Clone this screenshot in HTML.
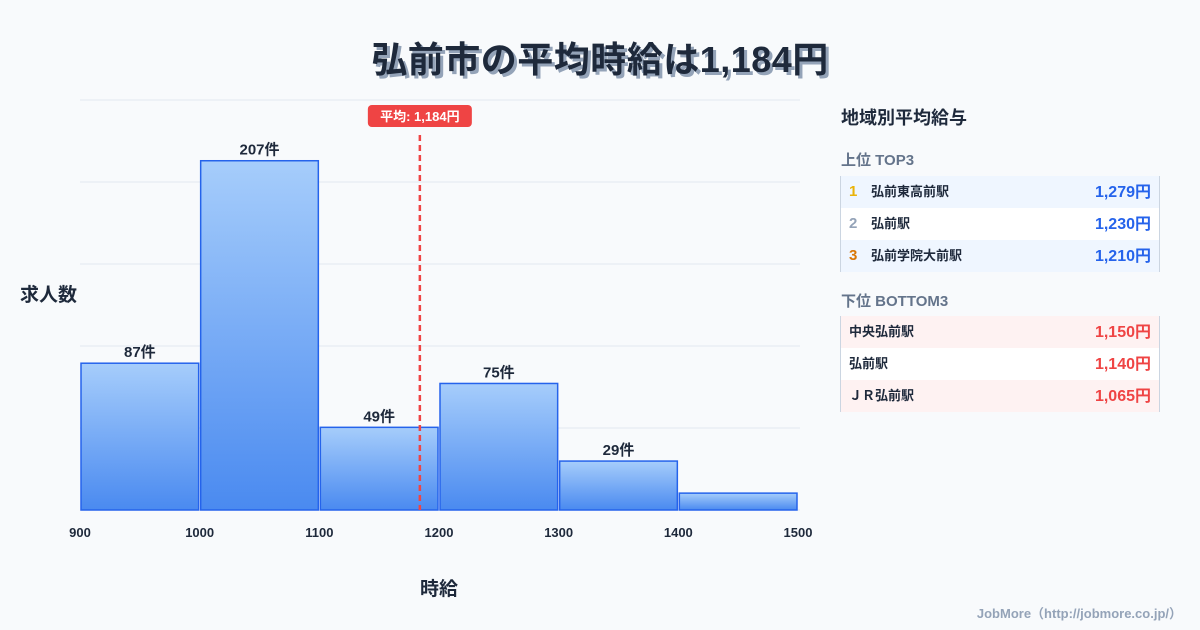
<!DOCTYPE html>
<html><head><meta charset="utf-8"><style>
body{margin:0;width:1200px;height:630px;background:#f8fafc;font-family:"Liberation Sans","Noto Sans CJK JP",sans-serif;position:relative;overflow:hidden;color:#1e293b}
.t{position:absolute;white-space:nowrap}
.row{position:absolute;left:840px;width:320px;height:32px;line-height:32px;border-left:1px solid #cbd5e1;border-right:1px solid #cbd5e1;box-sizing:border-box;font-size:13px;font-weight:bold}
.row span{position:absolute;top:0}
.row .n{font-size:15px}
.row .v{right:8px;font-size:16px;top:1px}
</style></head><body>
<div class="t" style="left:0;width:1200px;text-align:center;top:31px;font-size:36px;font-weight:bold;letter-spacing:0.5px;text-shadow:3px 3px 0 #94a3b8">弘前市の平均時給は1,184円</div>
<svg id="c" width="1200" height="630" style="position:absolute;left:0;top:0"></svg>
<div class="t" style="left:20px;top:280px;font-size:19px;font-weight:bold">求人数</div>
<div class="t" style="left:420px;top:574px;font-size:19px;font-weight:bold">時給</div>
<div class="t" style="left:841px;top:104px;font-size:18px;font-weight:bold">地域別平均給与</div>
<div class="t" style="left:841px;top:149px;font-size:15px;font-weight:bold;color:#64748b">上位 TOP3</div>
<div class="row" style="top:176px;background:#eff6ff"><span class="n" style="left:8px;color:#eab308">1</span><span style="left:30px">弘前東高前駅</span><span class="v" style="color:#2563eb">1,279円</span></div>
<div class="row" style="top:208px;background:#fff"><span class="n" style="left:8px;color:#94a3b8">2</span><span style="left:30px">弘前駅</span><span class="v" style="color:#2563eb">1,230円</span></div>
<div class="row" style="top:240px;background:#eff6ff"><span class="n" style="left:8px;color:#d97706">3</span><span style="left:30px">弘前学院大前駅</span><span class="v" style="color:#2563eb">1,210円</span></div>
<div class="t" style="left:841px;top:290px;font-size:15px;font-weight:bold;color:#64748b">下位 BOTTOM3</div>
<div class="row" style="top:316px;background:#fef2f2"><span style="left:8px">中央弘前駅</span><span class="v" style="color:#ef4444">1,150円</span></div>
<div class="row" style="top:348px;background:#fff"><span style="left:8px">弘前駅</span><span class="v" style="color:#ef4444">1,140円</span></div>
<div class="row" style="top:380px;background:#fef2f2"><span style="left:8px">ＪＲ弘前駅</span><span class="v" style="color:#ef4444">1,065円</span></div>
<div class="t" style="right:18px;top:603px;font-size:13px;font-weight:bold;color:#94a3b8">JobMore（http://jobmore.co.jp/）</div>
<script>
const binStarts=[900,1000,1100,1200,1300,1400];
const counts=[87,207,49,75,29,10];
const showLabel=[true,true,true,true,true,false];
const xTicks=[900,1000,1100,1200,1300,1400,1500];
const avg=1184;
const yMax=243;
const X=v=>80+(v-900)*(718/600);
const Y=v=>510-v*(410/yMax);
const s=document.getElementById('c');const N='http://www.w3.org/2000/svg';
function el(t,a){const e=document.createElementNS(N,t);for(const k in a)e.setAttribute(k,a[k]);s.appendChild(e);return e;}
const d=el('defs',{});d.innerHTML='<linearGradient id="g" x1="0" y1="0" x2="0" y2="1"><stop offset="0" stop-color="#a6cdfb"/><stop offset="1" stop-color="#4a8af0"/></linearGradient>';
for(let i=0;i<=5;i++){const y=510-i*82;const g=el('line',{x1:80,x2:800,y1:y,y2:y,stroke:'#e2e8f0','stroke-width':1});

}
binStarts.forEach((b,i)=>{
const x0=X(b)+1,x1=X(b+100)-1,y=Y(counts[i]);
const r=el('rect',{x:x0,y:y,width:x1-x0,height:510-y,fill:'url(#g)',stroke:'#2563eb','stroke-width':1.5});


if(showLabel[i]){const t=el('text',{x:(x0+x1)/2,y:y-6,'text-anchor':'middle','font-size':15,'font-weight':'bold',fill:'#1e293b'});t.textContent=counts[i]+'件';

}
});
xTicks.forEach(v=>{const t=el('text',{x:X(v),y:537,'text-anchor':'middle','font-size':13,'font-weight':'bold',fill:'#1e293b'});t.textContent=v;

});
const ax=X(avg);
const l=el('line',{x1:ax,x2:ax,y1:135,y2:510,stroke:'#ef4444','stroke-width':2.5,'stroke-dasharray':'6,4'});


const bx=el('rect',{x:ax-52,y:105,width:104,height:22,rx:4,fill:'#ef4444'});


const bt=el('text',{x:ax,y:121,'text-anchor':'middle','font-size':13,'font-weight':'bold',fill:'#fff'});bt.textContent='平均: 1,184円';


</script>
</body></html>
